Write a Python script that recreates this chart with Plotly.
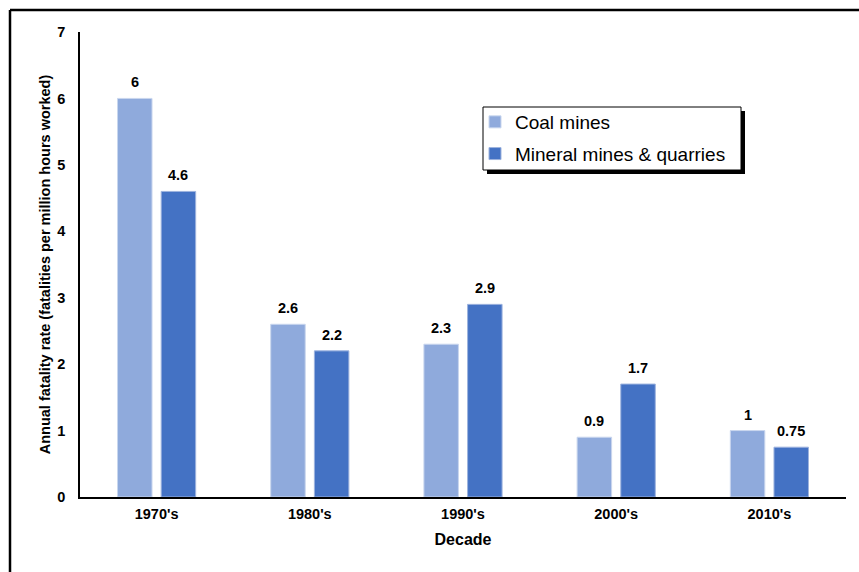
import plotly.graph_objects as go

decades = ["1970's", "1980's", "1990's", "2000's", "2010's"]
coal = [6, 2.6, 2.3, 0.9, 1]
mineral = [4.6, 2.2, 2.9, 1.7, 0.75]
coal_labels = ["6", "2.6", "2.3", "0.9", "1"]
mineral_labels = ["4.6", "2.2", "2.9", "1.7", "0.75"]

FONT = "Arial, Liberation Sans, sans-serif"
W, H = 859, 572
L, R, T, B = 80, 13, 32, 75
pw, ph = W - L - R, H - T - B
BARGAP = 0.43

def px(x):
    return (x - L) / pw

def py(y):
    return (H - B - y) / ph

fig = go.Figure()
fig.add_bar(x=decades, y=coal, name="Coal mines", marker_color="#8FAADC",
            marker_line=dict(color="#C9D6EE", width=1), legendgroup="a")
fig.add_bar(x=decades, y=mineral, name="Mineral mines & quarries", marker_color="#4472C4",
            marker_line=dict(color="#9DB3DE", width=1), legendgroup="b")

# data labels above the bars, offset to each bar's slot within its group
slot_px = pw / len(decades) * (1 - BARGAP) / 2
annotations = []
for series, labels, sgn in ((coal, coal_labels, -1), (mineral, mineral_labels, 1)):
    for d, v, t in zip(decades, series, labels):
        annotations.append(dict(x=d, y=v, xref="x", yref="y", text=f"<b>{t}</b>",
                                showarrow=False, yanchor="bottom", xanchor="center",
                                xshift=sgn * slot_px / 2, yshift=6,
                                font=dict(family=FONT, size=14.5, color="#000")))

shapes = [
    dict(type="line", xref="paper", yref="paper", x0=px(10), x1=px(W + 5), y0=py(10), y1=py(10),
         line=dict(color="black", width=2.5)),
    dict(type="line", xref="paper", yref="paper", x0=px(10), x1=px(10), y0=py(10), y1=py(H + 5),
         line=dict(color="black", width=2.5)),
    dict(type="rect", xref="paper", yref="paper", x0=px(487), x1=px(745), y0=py(111), y1=py(174),
         fillcolor="black", line=dict(width=0), layer="above"),
    dict(type="rect", xref="paper", yref="paper", x0=px(483), x1=px(741), y0=py(107), y1=py(170),
         fillcolor="white", line=dict(color="black", width=1), layer="above"),
]

fig.update_layout(
    width=W, height=H,
    margin=dict(l=L, r=R, t=T, b=B),
    paper_bgcolor="white", plot_bgcolor="white",
    font=dict(family=FONT, color="#000"),
    barmode="group", bargap=BARGAP, bargroupgap=0.21,
    showlegend=True,
    legend=dict(x=px(475), y=py(103), xanchor="left", yanchor="top",
                bgcolor="rgba(0,0,0,0)", borderwidth=0,
                font=dict(family=FONT, size=19, color="#000"),
                traceorder="grouped", tracegroupgap=4),
    shapes=shapes,
    annotations=annotations,
    xaxis=dict(showline=True, linecolor="black", linewidth=1.5, ticks="",
               tickfont=dict(family=FONT, size=14.5, color="#000", weight="bold"),
               ticklabelstandoff=3,
               title=dict(text="<b>Decade</b>", font=dict(family=FONT, size=16, color="#000"), standoff=13)),
    yaxis=dict(range=[0, 7], dtick=1, showline=True, linecolor="black", linewidth=1.5,
               ticks="", showgrid=False, zeroline=False,
               tickfont=dict(family=FONT, size=14.5, color="#000", weight="bold"),
               ticklabelstandoff=10,
               title=dict(text="<b>Annual fatality rate (fatalities per million hours worked)</b>",
                          font=dict(family=FONT, size=14.5, color="#000"), standoff=3)),
)

fig.write_html("out.html")
